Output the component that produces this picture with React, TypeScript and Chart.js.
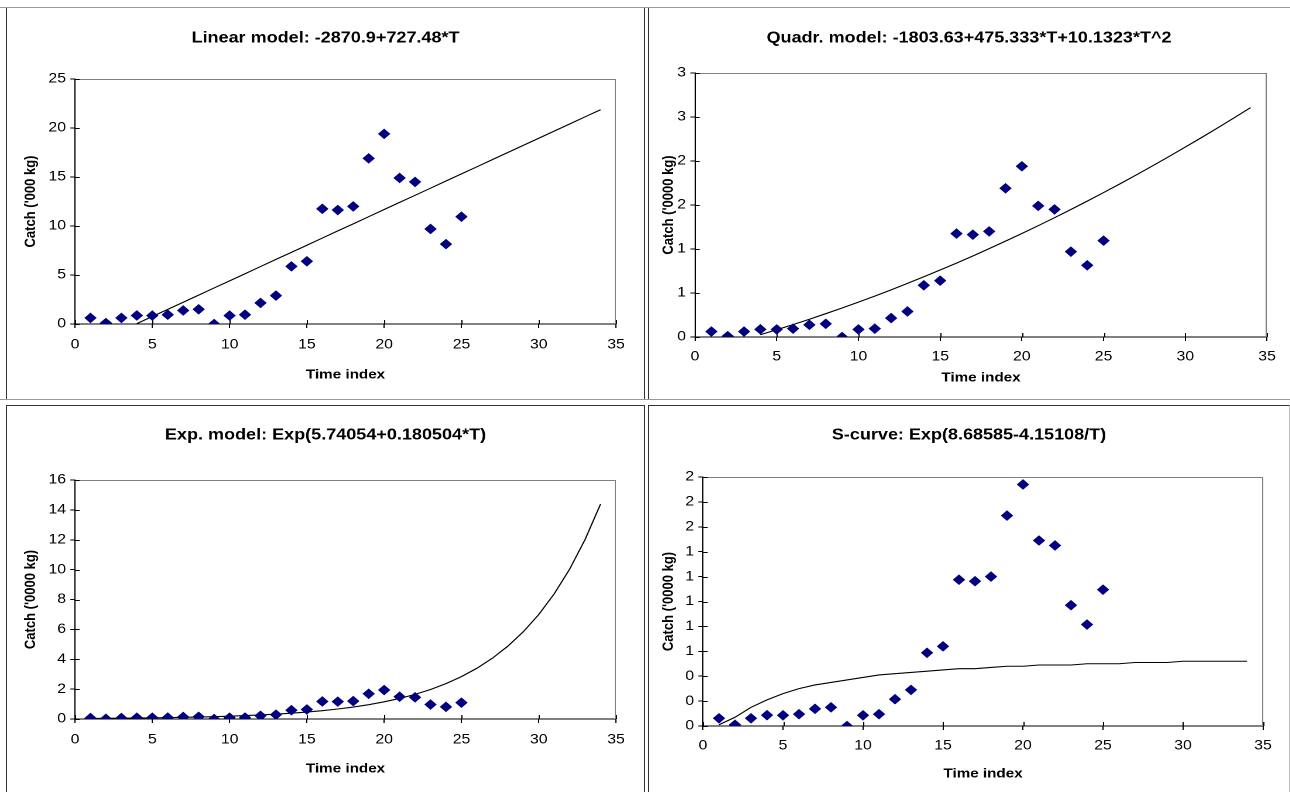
import React, { useEffect, useRef } from 'react';
import { Chart, registerables } from 'chart.js';

Chart.register(...registerables);

const FONT = "'Liberation Sans', Arial, Helvetica, sans-serif";

// ---- data ----
const timeIndex = [1, 2, 3, 4, 5, 6, 7, 8, 9, 10, 11, 12, 13, 14, 15, 16, 17, 18, 19, 20, 21, 22, 23, 24, 25];
// observed catch, '000 kg
const catchThousandKg = [0.62, 0.1, 0.62, 0.87, 0.86, 0.95, 1.38, 1.5, 0.0, 0.86, 0.95, 2.15, 2.9, 5.88, 6.4, 11.75, 11.63, 12.0, 16.9, 19.4, 14.9, 14.5, 9.7, 8.15, 10.95];
// observed catch, '0000 kg
const catchTenThousandKg = [0.062, 0.01, 0.062, 0.087, 0.086, 0.095, 0.138, 0.15, 0.0, 0.086, 0.095, 0.215, 0.29, 0.588, 0.64, 1.175, 1.163, 1.2, 1.69, 1.94, 1.49, 1.45, 0.97, 0.815, 1.095];

const fitTime = [1, 2, 3, 4, 5, 6, 7, 8, 9, 10, 11, 12, 13, 14, 15, 16, 17, 18, 19, 20, 21, 22, 23, 24, 25, 26, 27, 28, 29, 30, 31, 32, 33, 34];
const fitTimeFrom4 = [4, 5, 6, 7, 8, 9, 10, 11, 12, 13, 14, 15, 16, 17, 18, 19, 20, 21, 22, 23, 24, 25, 26, 27, 28, 29, 30, 31, 32, 33, 34];

const linearFit = [0.04, 0.77, 1.49, 2.22, 2.95, 3.68, 4.4, 5.13, 5.86, 6.59, 7.31, 8.04, 8.77, 9.5, 10.22, 10.95, 11.68, 12.41, 13.13, 13.86, 14.59, 15.32, 16.04, 16.77, 17.5, 18.23, 18.95, 19.68, 20.41, 21.14, 21.86];
const quadrFit = [0.026, 0.083, 0.141, 0.202, 0.265, 0.33, 0.396, 0.465, 0.536, 0.609, 0.684, 0.761, 0.84, 0.921, 1.004, 1.089, 1.176, 1.265, 1.356, 1.449, 1.544, 1.641, 1.74, 1.842, 1.945, 2.05, 2.158, 2.267, 2.378, 2.492, 2.607];
const expFit = [0.037, 0.045, 0.053, 0.064, 0.077, 0.092, 0.11, 0.132, 0.158, 0.189, 0.227, 0.271, 0.325, 0.389, 0.467, 0.559, 0.669, 0.802, 0.96, 1.15, 1.378, 1.65, 1.977, 2.368, 2.836, 3.397, 4.069, 4.874, 5.838, 6.992, 8.376, 10.03, 12.02, 14.39];
const sCurveFit = [0.01, 0.07, 0.15, 0.21, 0.26, 0.3, 0.33, 0.35, 0.37, 0.39, 0.41, 0.42, 0.43, 0.44, 0.45, 0.46, 0.46, 0.47, 0.48, 0.48, 0.49, 0.49, 0.49, 0.5, 0.5, 0.5, 0.51, 0.51, 0.51, 0.52, 0.52, 0.52, 0.52, 0.52];

const quadrYTickLabels = ['0', '1', '1', '2', '2', '3', '3'];
const sCurveYTickLabels = ['0', '0', '0', '1', '1', '1', '1', '1', '2', '2', '2'];

const STRETCH = 1.17;
const TITLE_SIZE = 15.4;
const TICK_SIZE = 13.5;
const AXIS_TITLE_SIZE = 13;

type Spec = {
  left: number; top: number; width: number; height: number;
  plotL: number; plotR: number; plotT: number; plotB: number;
  titleC: number; yTitleC: number; xTickC: number; xTitleC: number;
  title: string; yTitle: string; yMax: number; yStep: number; yLabels?: string[];
  obs: number[]; fitT: number[]; fit: number[];
};

const framePlugin = {
  id: 'frame',
  beforeDatasetsDraw(chart: any) {
    const { ctx, chartArea: a, scales } = chart;
    ctx.save();
    ctx.lineWidth = 1;
    ctx.strokeStyle = '#808080';
    ctx.beginPath();
    ctx.moveTo(a.left, Math.round(a.top) + 0.5);
    ctx.lineTo(a.right, Math.round(a.top) + 0.5);
    ctx.moveTo(Math.round(a.right) - 0.5, a.top);
    ctx.lineTo(Math.round(a.right) - 0.5, a.bottom);
    ctx.stroke();
    ctx.strokeStyle = '#000';
    ctx.beginPath();
    scales.x.ticks.forEach((t: any) => {
      const p = Math.round(scales.x.getPixelForValue(t.value)) + 0.5;
      ctx.moveTo(p, a.bottom);
      ctx.lineTo(p, a.bottom - 4);
    });
    scales.y.ticks.forEach((t: any) => {
      const p = Math.round(scales.y.getPixelForValue(t.value)) + 0.5;
      ctx.moveTo(a.left, p);
      ctx.lineTo(a.left + 4, p);
    });
    ctx.stroke();
    ctx.restore();
  },
};

function Panel({ s }: { s: Spec }) {
  const ref = useRef<HTMLCanvasElement>(null);
  const innerW = Math.round(s.width / STRETCH);
  const sx = s.width / innerW;
  useEffect(() => {
    const tickLH = TICK_SIZE * 1.2;
    const axisLH = AXIS_TITLE_SIZE * 1.2;
    const titleLH = TITLE_SIZE * 1.2;
    const yTicks: any = {
      stepSize: s.yStep,
      color: '#000',
      font: { family: FONT, size: TICK_SIZE },
      padding: 9 / sx - 4,
    };
    if (s.yLabels) {
      const labels = s.yLabels;
      yTicks.callback = (_v: any, i: number) => labels[i];
    }
    const chart = new Chart(ref.current as HTMLCanvasElement, {
      type: 'scatter',
      data: {
        datasets: [
          {
            label: 'Catch',
            data: s.obs.map((v, i) => ({ x: timeIndex[i], y: v })),
            showLine: false,
            pointStyle: 'rectRot',
            pointRadius: 4.6,
            pointBackgroundColor: '#000080',
            pointBorderColor: '#000080',
            pointBorderWidth: 1,
          },
          {
            label: 'Model',
            data: s.fitT.map((t, i) => ({ x: t, y: s.fit[i] })),
            showLine: true,
            borderColor: '#000',
            borderWidth: 1.1,
            pointRadius: 0,
            fill: false,
            tension: 0,
          },
        ],
      },
      options: {
        animation: false,
        responsive: true,
        maintainAspectRatio: false,
        devicePixelRatio: 2,
        events: [],
        layout: { padding: 0 },
        plugins: {
          legend: { display: false },
          tooltip: { enabled: false },
          title: {
            display: true,
            text: s.title,
            color: '#000',
            font: { family: FONT, size: TITLE_SIZE, weight: 'bold', lineHeight: 1.2 },
            padding: { top: s.titleC - titleLH / 2, bottom: s.plotT - s.titleC - titleLH / 2 },
          },
        },
        scales: {
          x: {
            type: 'linear',
            position: 'bottom',
            min: 0,
            max: 35,
            ticks: {
              stepSize: 5,
              color: '#000',
              font: { family: FONT, size: TICK_SIZE },
              padding: s.xTickC - s.plotB - 4 - tickLH / 2,
              maxRotation: 0,
              autoSkip: false,
            },
            grid: { display: true, drawOnChartArea: false, drawTicks: true, tickLength: 4, color: '#000', lineWidth: 1 },
            border: { display: true, color: '#000', width: 1 },
            title: {
              display: true,
              text: 'Time index',
              color: '#000',
              font: { family: FONT, size: AXIS_TITLE_SIZE, weight: 'bold', lineHeight: 1.2 },
              padding: { top: 0, bottom: s.height - s.xTitleC - axisLH / 2 },
            },
            afterFit: (sc: any) => { sc.height = s.height - s.plotB; },
          },
          y: {
            type: 'linear',
            position: 'left',
            min: 0,
            max: s.yMax,
            ticks: yTicks,
            grid: { display: true, drawOnChartArea: false, drawTicks: true, tickLength: 4, color: '#000', lineWidth: 1 },
            border: { display: true, color: '#000', width: 1 },
            title: {
              display: true,
              text: s.yTitle,
              color: '#000',
              font: { family: FONT, size: AXIS_TITLE_SIZE, weight: 'bold', lineHeight: 1.2 },
              padding: { top: s.yTitleC / sx - axisLH / 2, bottom: 0 },
            },
            afterFit: (sc: any) => { sc.width = s.plotL / sx; },
          },
          yRight: {
            type: 'linear',
            position: 'right',
            display: true,
            ticks: { display: false },
            grid: { display: false },
            border: { display: false },
            afterFit: (sc: any) => { sc.width = (s.width - s.plotR) / sx; },
          },
        },
      } as any,
      plugins: [framePlugin],
    });
    return () => chart.destroy();
  }, []);
  return (
    <div
      style={{
        position: 'absolute',
        left: s.left,
        top: s.top,
        width: innerW,
        height: s.height,
        transform: `scaleX(${sx})`,
        transformOrigin: '0 0',
      }}
    >
      <canvas ref={ref} />
    </div>
  );
}

const specs: Spec[] = [
  {
    left: 7, top: 8, width: 637, height: 390,
    plotL: 68, plotR: 609, plotT: 71, plotB: 316,
    titleC: 30, yTitleC: 24, xTickC: 337, xTitleC: 367,
    title: 'Linear model: -2870.9+727.48*T', yTitle: "Catch ('000 kg)", yMax: 25, yStep: 5,
    obs: catchThousandKg, fitT: fitTimeFrom4, fit: linearFit,
  },
  {
    left: 649, top: 8, width: 640, height: 390,
    plotL: 46, plotR: 618, plotT: 65, plotB: 329,
    titleC: 30, yTitleC: 20, xTickC: 349, xTitleC: 370,
    title: 'Quadr. model: -1803.63+475.333*T+10.1323*T^2', yTitle: "Catch ('0000 kg)", yMax: 3, yStep: 0.5,
    yLabels: quadrYTickLabels,
    obs: catchTenThousandKg, fitT: fitTimeFrom4, fit: quadrFit,
  },
  {
    left: 7, top: 406, width: 637, height: 386,
    plotL: 68, plotR: 609, plotT: 74, plotB: 313,
    titleC: 29, yTitleC: 24, xTickC: 334, xTitleC: 363,
    title: 'Exp. model: Exp(5.74054+0.180504*T)', yTitle: "Catch ('0000 kg)", yMax: 16, yStep: 2,
    obs: catchTenThousandKg, fitT: fitTime, fit: expFit,
  },
  {
    left: 649, top: 406, width: 640, height: 386,
    plotL: 54, plotR: 614, plotT: 71, plotB: 320,
    titleC: 29, yTitleC: 20, xTickC: 340, xTitleC: 368,
    title: 'S-curve: Exp(8.68585-4.15108/T)', yTitle: "Catch ('0000 kg)", yMax: 2, yStep: 0.2,
    yLabels: sCurveYTickLabels,
    obs: catchTenThousandKg, fitT: fitTime, fit: sCurveFit,
  },
];

export default function App() {
  const line = (top: number) => (
    <div style={{ position: 'absolute', left: 0, top, width: 1290, height: 1, background: '#9a9a9a' }} />
  );
  return (
    <div style={{ position: 'fixed', left: 0, top: 0, width: 1290, height: 792, overflow: 'hidden', background: '#fff' }}>
      <div style={{ position: 'absolute', left: 6, top: 7, width: 639, height: 393, boxSizing: 'border-box', border: '1px solid #333' }} />
      <div style={{ position: 'absolute', left: 648, top: 7, width: 650, height: 393, boxSizing: 'border-box', border: '1px solid #333' }} />
      <div style={{ position: 'absolute', left: 6, top: 405, width: 639, height: 400, boxSizing: 'border-box', border: '1px solid #333' }} />
      <div style={{ position: 'absolute', left: 648, top: 405, width: 642, height: 400, boxSizing: 'border-box', border: '1px solid #333', borderRightColor: '#bbb' }} />
      {line(7)}
      {line(399)}
      {specs.map((s, i) => <Panel key={i} s={s} />)}
    </div>
  );
}
